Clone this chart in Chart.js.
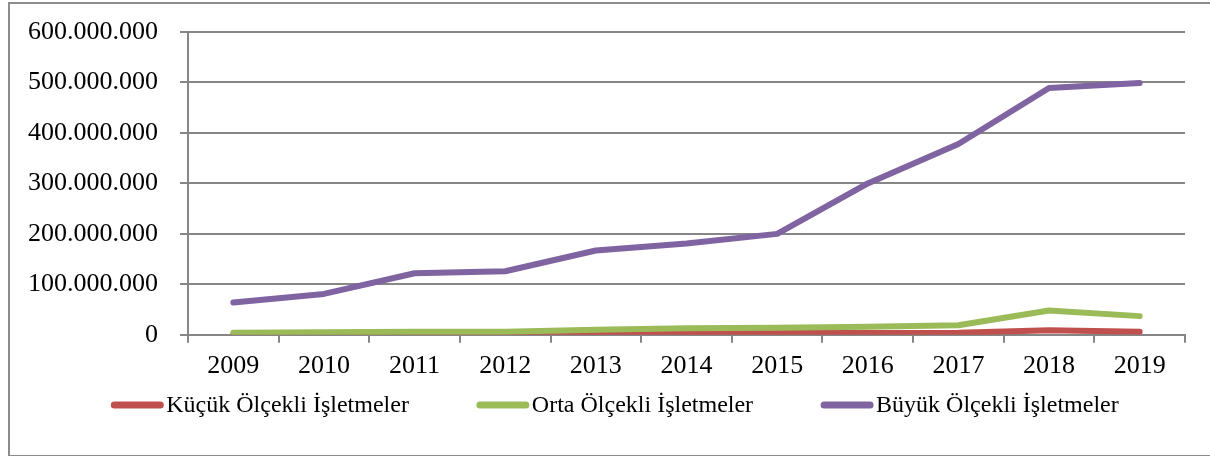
<!DOCTYPE html>
<html>
<head>
<meta charset="utf-8">
<script src="https://cdn.jsdelivr.net/npm/chart.js@4"></script>
<style>
  body { margin: 0; background: #fff; }
  #wrap { position: relative; width: 1210px; height: 456px; }
  #frame { position: absolute; left: 8px; top: 2px; width: 1210px; height: 451px; border: 2px solid #8c8c8c; pointer-events: none; }
</style>
</head>
<body>
<div id="wrap">
  <canvas id="myChart" width="1210" height="456"></canvas>
  <div id="frame"></div>
</div>
<script>
var years = ["2009", "2010", "2011", "2012", "2013", "2014", "2015", "2016", "2017", "2018", "2019"];
var kucuk = [500000, 1200000, 1500000, 1800000, 3000000, 3500000, 3500000, 3500000, 4000000, 9000000, 6000000];
var orta = [4000000, 5000000, 6000000, 6000000, 10000000, 13000000, 14000000, 16000000, 19000000, 48000000, 37000000];
var buyuk = [64000000, 81000000, 122000000, 126000000, 167000000, 181000000, 200000000, 300000000, 378000000, 489000000, 499000000];
var seriesNames = ["Küçük Ölçekli İşletmeler", "Orta Ölçekli İşletmeler", "Büyük Ölçekli İşletmeler"];
var yMax = 600000000;
var yStep = 100000000;

var fontName = "'Liberation Serif', 'Times New Roman', serif";
var gridColor = "#868686";

function dotted(v) {
  return String(v).replace(/\B(?=(\d{3})+(?!\d))/g, ".");
}

// legend drawn by hand so the spacing can follow the picture
var lineLegend = {
  id: "lineLegend",
  afterDraw: function(chart) {
    var ctx = chart.ctx;
    var sets = chart.data.datasets;
    var boxW = 52, gapText = 3, gapItem = 68;
    ctx.save();
    ctx.font = "24px " + fontName;
    var widths = sets.map(function(d) { return boxW + gapText + ctx.measureText(d.label).width; });
    var total = widths.reduce(function(a, b) { return a + b; }, 0) + gapItem * (sets.length - 1);
    var x = 615 - total / 2;
    var y = 405;
    sets.forEach(function(d, i) {
      ctx.strokeStyle = d.borderColor;
      ctx.lineWidth = 7;
      ctx.lineCap = "round";
      ctx.beginPath();
      ctx.moveTo(x + 3, y);
      ctx.lineTo(x + boxW - 3, y);
      ctx.stroke();
      ctx.fillStyle = "#000";
      ctx.textBaseline = "middle";
      ctx.textAlign = "left";
      ctx.fillText(d.label, x + boxW + gapText, y + 1);
      x += widths[i] + gapItem;
    });
    ctx.restore();
  }
};

var ctx = document.getElementById("myChart").getContext("2d");
var chart = new Chart(ctx, {
  type: "line",
  data: {
    labels: years,
    datasets: [
      { label: seriesNames[0], data: kucuk, borderColor: "#C0504D", backgroundColor: "#C0504D", order: 3 },
      { label: seriesNames[1], data: orta, borderColor: "#9BBB59", backgroundColor: "#9BBB59", order: 2 },
      { label: seriesNames[2], data: buyuk, borderColor: "#8064A2", backgroundColor: "#8064A2", order: 1 }
    ]
  },
  options: {
    responsive: false,
    animation: false,
    elements: {
      line: { borderWidth: 6, tension: 0, borderCapStyle: "round", borderJoinStyle: "round" },
      point: { radius: 0 }
    },
    layout: { padding: { left: 0, top: 32, right: 25, bottom: 66 } },
    plugins: {
      legend: { display: false },
      tooltip: { enabled: false }
    },
    scales: {
      x: {
        offset: true,
        grid: { offset: true, drawOnChartArea: false, drawTicks: true, tickLength: 8, color: gridColor, lineWidth: 2 },
        border: { color: gridColor, width: 2 },
        ticks: { color: "#000", padding: 8, maxRotation: 0, font: { family: fontName, size: 26 } }
      },
      y: {
        min: 0,
        max: yMax,
        afterFit: function(scale) {
          scale.width = 188;
          scale.paddingTop = 0;
          scale.paddingBottom = 0;
        },
        grid: { color: gridColor, lineWidth: 2, tickLength: 8 },
        border: { color: gridColor, width: 2 },
        ticks: {
          stepSize: yStep,
          color: "#000",
          padding: 22,
          font: { family: fontName, size: 26 },
          callback: function(v) { return dotted(v); }
        }
      }
    }
  },
  plugins: [lineLegend]
});
</script>
</body>
</html>
